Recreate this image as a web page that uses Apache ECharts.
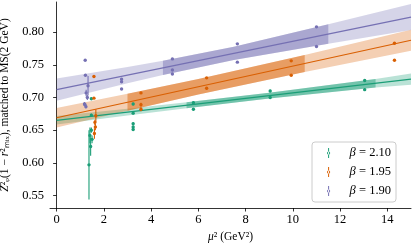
<!DOCTYPE html>
<html><head><meta charset="utf-8">
<script src="https://cdn.jsdelivr.net/npm/echarts@6/dist/echarts.min.js"></script>
<style>html,body{margin:0;padding:0;background:#fff}#c{width:415px;height:244px}</style>
</head><body><div id="c"></div>
<script>
// ---- data ----
const xTicks = [0, 2, 4, 6, 8, 10, 12, 14];
const yTicks = [0.55, 0.60, 0.65, 0.70, 0.75, 0.80];
const seriesNames = ['β = 2.10', 'β = 1.95', 'β = 1.90'];

// beta = 2.10
const gX = [1.37, 1.41, 1.44, 1.47, 1.50, 1.47, 1.47, 3.24, 3.24, 3.24, 3.24, 3.24, 5.79, 5.79, 9.04, 9.04, 13.04, 13.04];
const gY = [0.597, 0.642, 0.625, 0.650, 0.636, 0.698, 0.673, 0.690, 0.676, 0.660, 0.655, 0.651, 0.692, 0.682, 0.710, 0.700, 0.726, 0.712];
const gE = [0.053, 0.012, 0.014, 0.004, 0.006, 0.002, 0.002, 0.002, 0.002, 0.002, 0.002, 0.002, 0.002, 0.002, 0.002, 0.002, 0.002, 0.002];
// beta = 1.95
const oX = [1.58, 1.58, 1.66, 1.62, 1.64, 1.60, 3.57, 3.57, 3.57, 6.35, 6.35, 9.93, 9.93, 14.3, 14.3];
const oY = [0.732, 0.699, 0.672, 0.662, 0.655, 0.645, 0.707, 0.689, 0.682, 0.730, 0.714, 0.756, 0.734, 0.783, 0.757];
const oE = [0.001, 0.001, 0.010, 0.004, 0.005, 0.008, 0.001, 0.003, 0.003, 0.001, 0.002, 0.001, 0.001, 0.001, 0.001];
// beta = 1.90
const pX = [1.21, 1.22, 1.33, 1.25, 1.18, 1.24, 1.30, 1.20, 2.75, 2.75, 2.75, 4.90, 4.90, 4.90, 7.65, 7.65, 11.0, 11.0];
const pY = [0.757, 0.734, 0.718, 0.707, 0.690, 0.686, 0.700, 0.689, 0.728, 0.724, 0.713, 0.759, 0.742, 0.736, 0.782, 0.754, 0.808, 0.778];
const pE = [0.001, 0.002, 0.015, 0.005, 0.003, 0.003, 0.004, 0.002, 0.001, 0.001, 0.001, 0.001, 0.001, 0.001, 0.001, 0.001, 0.001, 0.001];

// fit lines
const fitX = [0, 15];
const gLine = [0.665, 0.728];
const oLine = [0.669, 0.7875];
const pLine = [0.712, 0.823];

// fit bands (knots, lower, upper, fitted-range knot indices)
const gBandX = [0, 3, 5.5, 9, 13.5, 15];
const gBandLo = [0.6585, 0.6726, 0.6836, 0.6983, 0.7152, 0.7195];
const gBandHi = [0.6715, 0.6826, 0.6926, 0.7073, 0.7282, 0.7365];
const gFit = [2, 4];
const oBandX = [0, 3, 6, 10.5, 15];
const oBandLo = [0.654, 0.6797, 0.7044, 0.739, 0.7715];
const oBandHi = [0.684, 0.7057, 0.7284, 0.765, 0.8035];
const oFit = [1, 3];
const pBandX = [0, 3, 4.5, 7.5, 11.5, 15];
const pBandLo = [0.695, 0.7217, 0.7343, 0.7575, 0.7821, 0.803];
const pBandHi = [0.729, 0.7467, 0.7563, 0.7775, 0.8121, 0.843];
const pFit = [2, 4];

// ---- style ----
const G = '#1b9e77', O = '#d95f02', P = '#7570b3';
const FONT = 'Liberation Serif';
const FS = 12.5;
const FSN = 11.5;

function zip3(a, b, c) { return a.map((v, i) => [v, b[i], c[i]]); }

function bandSeries(bx, lo, hi, i0, i1, color, alpha, z) {
  return {
    type: 'custom', silent: true, z: z, clip: true,
    data: [[bx[i0], lo[i0]]],
    renderItem: function (params, api) {
      const pts = [];
      for (let i = i0; i <= i1; i++) pts.push(api.coord([bx[i], hi[i]]));
      for (let i = i1; i >= i0; i--) pts.push(api.coord([bx[i], lo[i]]));
      return { type: 'polygon', shape: { points: pts }, style: { fill: color, opacity: alpha } };
    }
  };
}

function lineSeries(ys, color) {
  return {
    type: 'line', silent: true, z: 3, symbol: 'none',
    data: fitX.map((x, i) => [x, ys[i]]),
    lineStyle: { color: color, width: 1.2 }
  };
}

function errSeries(name, xs, ys, es, color) {
  return {
    name: name, type: 'custom', z: 5,
    itemStyle: { color: color },
    data: zip3(xs, ys, es),
    renderItem: function (params, api) {
      const x = api.value(0), y = api.value(1), e = api.value(2);
      const c = api.coord([x, y]);
      const lo = api.coord([x, y - e]);
      const hi = api.coord([x, y + e]);
      return {
        type: 'group', children: [
          { type: 'line', shape: { x1: lo[0], y1: lo[1], x2: hi[0], y2: hi[1] }, style: { stroke: color, lineWidth: 1.1 } },
          { type: 'circle', shape: { cx: c[0], cy: c[1], r: 1.7 }, style: { fill: color } }
        ]
      };
    }
  };
}

const ICON = 'path://M1.5,0 L2.5,0 L2.5,10 L1.5,10 Z M0.4,5 A1.6,1.6 0 1 0 3.6,5 A1.6,1.6 0 1 0 0.4,5 Z';

const chart = echarts.init(document.getElementById('c'), null, { renderer: 'canvas' });
chart.setOption({
  animation: false,
  backgroundColor: '#fff',
  grid: { left: 50, right: 4, top: 2, bottom: 36, containLabel: false, outerBoundsMode: 'none' },
  xAxis: {
    type: 'value', min: -0.28, max: 15,
    name: '{i|μ}² (GeV²)', nameLocation: 'middle', nameGap: 20,
    nameTextStyle: { fontFamily: FONT, fontSize: FSN, color: '#000',
      rich: { i: { fontFamily: FONT, fontSize: FSN, fontStyle: 'italic', color: '#000' } } },
    axisLine: { show: true, lineStyle: { color: '#000', width: 0.8 } },
    axisTick: { show: true, length: 3.5, lineStyle: { color: '#000', width: 0.8 }, customValues: xTicks },
    axisLabel: { fontFamily: FONT, fontSize: FS, color: '#000', margin: 5, customValues: xTicks, formatter: v => String(v) },
    splitLine: { show: false }
  },
  yAxis: {
    type: 'value', min: 0.531, max: 0.846,
    name: '{i|Z}²ᵩ(1 − {i|r}²ₘᵢₓ), matched to M̅S̅(2 GeV)',
    nameLocation: 'middle', nameGap: 31, nameRotate: 90,
    nameTextStyle: { fontFamily: FONT, fontSize: FSN, color: '#000',
      rich: { i: { fontFamily: FONT, fontSize: FSN, fontStyle: 'italic', color: '#000' } } },
    axisLine: { show: true, lineStyle: { color: '#000', width: 0.8 } },
    axisTick: { show: true, length: 3.5, lineStyle: { color: '#000', width: 0.8 }, customValues: yTicks },
    axisLabel: { fontFamily: FONT, fontSize: FS, color: '#000', margin: 6, customValues: yTicks, formatter: v => v.toFixed(2) },
    splitLine: { show: false }
  },
  legend: {
    orient: 'vertical', left: 312, top: 142,
    padding: [4, 5, 4, 15],
    itemGap: 5, itemWidth: 4, itemHeight: 10,
    backgroundColor: 'rgba(255,255,255,0.8)',
    borderColor: '#cccccc', borderWidth: 1, borderRadius: 3,
    data: [
      { name: seriesNames[0], icon: ICON, itemStyle: { color: G } },
      { name: seriesNames[1], icon: ICON, itemStyle: { color: O } },
      { name: seriesNames[2], icon: ICON, itemStyle: { color: P } }
    ],
    formatter: n => '{b|β}{c| = ' + n.split('= ')[1] + '}',
    textStyle: {
      fontFamily: FONT, fontSize: FS, color: '#000', lineHeight: 14,
      rich: {
        b: { fontFamily: FONT, fontSize: FS, fontStyle: 'italic', color: '#000', padding: [0, 0, 0, 14], lineHeight: 14 },
        c: { fontFamily: FONT, fontSize: FS, color: '#000', lineHeight: 14 }
      }
    }
  },
  series: [
    bandSeries(gBandX, gBandLo, gBandHi, 0, gBandX.length - 1, G, 0.3, 1),
    bandSeries(gBandX, gBandLo, gBandHi, gFit[0], gFit[1], G, 0.45, 2),
    bandSeries(oBandX, oBandLo, oBandHi, 0, oBandX.length - 1, O, 0.3, 1),
    bandSeries(oBandX, oBandLo, oBandHi, oFit[0], oFit[1], O, 0.45, 2),
    bandSeries(pBandX, pBandLo, pBandHi, 0, pBandX.length - 1, P, 0.3, 1),
    bandSeries(pBandX, pBandLo, pBandHi, pFit[0], pFit[1], P, 0.45, 2),
    lineSeries(gLine, G),
    lineSeries(oLine, O),
    lineSeries(pLine, P),
    errSeries(seriesNames[0], gX, gY, gE, G),
    errSeries(seriesNames[1], oX, oY, oE, O),
    errSeries(seriesNames[2], pX, pY, pE, P)
  ]
});
</script>
</body></html>
